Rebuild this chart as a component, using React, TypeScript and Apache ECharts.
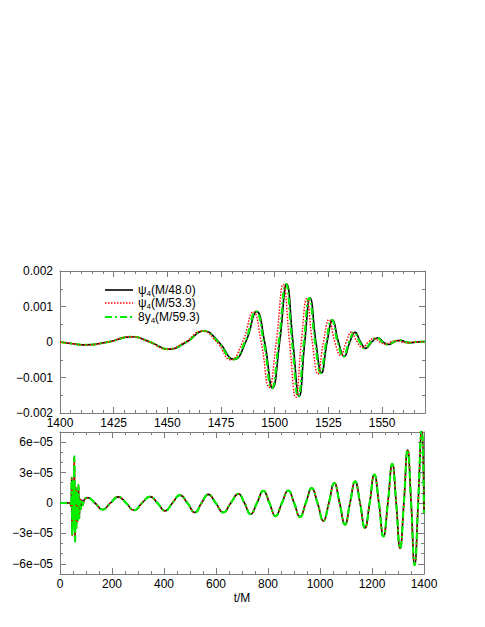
import React, { useEffect, useRef } from "react";
import * as echarts from "echarts";

// ---- Top panel (merger) : [t/M, value] ----
const topPsi48: [number, number][] = [
  [1400, 0], [1405, -0.00004], [1411.7, -0.00008], [1422.6, 0], [1433.5, 0.00015],
  [1442, 0], [1450.6, -0.0002], [1459, 0], [1467, 0.00031], [1474, 0],
  [1481, -0.00049], [1486.5, 0], [1491.6, 0.00086], [1495.3, 0], [1499, -0.0013],
  [1502.3, 0], [1505.6, 0.00163], [1508.5, 0], [1511.4, -0.00153], [1514, 0],
  [1516.5, 0.00124], [1519.2, 0], [1521.8, -0.00087], [1524.4, 0], [1527, 0.00062],
  [1529.7, 0], [1532.4, -0.00041], [1535, 0], [1537.4, 0.00027], [1540, 0],
  [1542.5, -0.00018], [1545.2, 0], [1548, 0.00012], [1550.5, 0], [1553, -0.00007],
  [1555.7, 0], [1558.5, 0.00005], [1561, 0], [1563.5, -0.00002], [1566, 0], [1570, 0.00001],
];

const topPsi53: [number, number][] = [
  [1400, 0], [1405, -0.00004], [1411.5, -0.00008], [1422.3, 0], [1433.2, 0.00015],
  [1441.6, 0], [1450.1, -0.0002], [1458.3, 0], [1466.1, 0.00031], [1473, 0],
  [1479.5, -0.0005], [1485, 0], [1490, 0.00085], [1493.7, 0], [1497.4, -0.00128],
  [1500.7, 0], [1504, 0.00162], [1506.9, 0], [1509.8, -0.00156], [1512.4, 0],
  [1514.9, 0.00122], [1517.5, 0], [1520.1, -0.0009], [1522.7, 0], [1525.3, 0.00063],
  [1528, 0], [1530.7, -0.00038], [1533.3, 0], [1535.8, 0.00028], [1538.4, 0],
  [1540.9, -0.00015], [1543.6, 0], [1546.3, 0.0001], [1548.9, 0], [1551.4, -0.00006],
  [1554, 0], [1556.8, 0.00004], [1559.5, 0], [1562, -0.00002], [1565, 0], [1570, 0.00001],
];

const top8y59: [number, number][] = [
  [1400, 0], [1405, -0.00004], [1411.6, -0.00008], [1422.5, 0], [1433.4, 0.00015],
  [1441.9, 0], [1450.4, -0.0002], [1458.8, 0], [1466.7, 0.00031], [1473.6, 0],
  [1480.6, -0.00049], [1486.1, 0], [1491.2, 0.00086], [1494.9, 0], [1498.6, -0.0013],
  [1501.9, 0], [1505.2, 0.00163], [1508.1, 0], [1511, -0.00154], [1513.6, 0],
  [1516.1, 0.00124], [1518.8, 0], [1521.4, -0.00087], [1524, 0], [1526.6, 0.00062],
  [1529.3, 0], [1532, -0.00041], [1534.6, 0], [1537, 0.00027], [1539.6, 0],
  [1542.1, -0.00018], [1544.8, 0], [1547.6, 0.00012], [1550.1, 0], [1552.6, -0.00007],
  [1555.3, 0], [1558.1, 0.00005], [1560.6, 0], [1563.1, -0.00002], [1565.6, 0], [1570, 0.00001],
];

// ---- Bottom panel (whole run) : the three curves coincide ----
const bottomInspiral: [number, number][] = [
  [0, 0], [30, 0], [38, 0], [42, -3e-6], [45, 2.5e-5], [47, -3.2e-5], [50, 2.2e-5],
  [53, -2.6e-5], [55, 4.6e-5], [58, -3.8e-5], [61, 1.5e-5], [63, -2.5e-5], [66, 1e-5],
  [68, -1.8e-5], [71, 1.8e-5], [74, -1.5e-5], [77, 4e-6], [80, -6e-6], [84, 3e-6],
  [88, -2e-6], [93, 3e-6], [105, 5.3e-6], [134.5, 0], [164, -6.5e-6], [194, 0],
  [224, 6e-6], [254.5, 0], [285, -7.2e-6], [315.5, 0], [346, 6.3e-6], [375, 0],
  [404, -7.7e-6], [432.5, 0], [461, 7.8e-6], [490, 0], [519, -9.3e-6], [544.5, 0],
  [570, 8.5e-6], [599, 0], [628, -9.3e-6], [657, 0], [686, 9e-6], [709.5, 0],
  [733, -1.1e-5], [757.5, 0], [782, 1.2e-5], [805.5, 0], [829, -1.3e-5], [853.5, 0],
  [878, 1.23e-5], [900.5, 0], [923, -1.37e-5], [945.5, 0], [968, 1.47e-5], [990.5, 0],
  [1013, -1.77e-5], [1034, 0], [1055, 1.97e-5], [1075.5, 0], [1096, -2.13e-5], [1115.5, 0],
  [1135, 2.13e-5], [1154, 0], [1173, -2.47e-5], [1191, 0], [1209, 2.8e-5], [1226.5, 0],
  [1244, -3.3e-5], [1261, 0], [1278, 3.87e-5], [1293, 0], [1308, -4.47e-5], [1322.5, 0],
  [1337, 5.23e-5], [1350.5, 0], [1364, -6.13e-5], [1377.5, 0], [1391, 7.5e-5], [1400, -1e-5],
];

const legendLabels = ["(M/48.0)", "(M/53.3)", "(M/59.3)"];
const legendPrefixes = ["ψ", "ψ", "8y"];

const FONT = '"Liberation Sans", Arial, Helvetica, sans-serif';
const FRAME = "#7a7a7a";
const C_BLACK = "#000000";
const C_RED = "#ff0000";
const C_GREEN = "#00ee00";

function fmtTop(v: number): string {
  const r = Math.round(v * 1e4) / 1e4;
  if (r === 0) return "0";
  const s = Math.abs(r).toFixed(3);
  return (r < 0 ? "\u2212" : "") + s;
}
function fmtBottom(v: number): string {
  const n = Math.round(v * 1e5);
  if (n === 0) return "0";
  return (n < 0 ? "\u2212" : "") + Math.abs(n) + "e\u221205";
}
function fmtPlain(v: number): string {
  return String(Math.round(v));
}

function valAxis(extra: any, labels: boolean, fmt?: (v: number) => string, lineShow = true) {
  return {
    type: "value",
    splitLine: { show: false },
    axisLine: { show: lineShow, onZero: false, lineStyle: { color: FRAME, width: 1 } },
    axisTick: { show: true, inside: true, length: 6, lineStyle: { color: FRAME, width: 1 } },
    ...extra,
    minorTick: { show: true, length: 3, lineStyle: { color: FRAME, width: 1 }, ...(extra.minorTick || {}) },
    axisLabel: { show: labels, color: "#000", fontFamily: FONT, fontSize: 12, formatter: fmt, ...(extra.axisLabel || {}) },
  };
}

export default function App() {
  const ref = useRef<HTMLDivElement>(null);
  useEffect(() => {
    if (!ref.current) return;
    const chart = echarts.init(ref.current, undefined, { renderer: "svg" });

    const topX = { min: 1400, max: 1570, interval: 25, minorTick: { splitNumber: 5 } };
    const topY = { min: -0.002, max: 0.002, interval: 0.001, minorTick: { splitNumber: 2 } };
    const botX = { min: 0, max: 1400, interval: 200, minorTick: { splitNumber: 4 } };
    const botYFrame = { min: -7e-5, max: 7e-5, axisTick: { show: false }, minorTick: { show: false } };
    const botYTicks = { min: -6e-5, max: 6e-5, interval: 3e-5, minorTick: { splitNumber: 3 } };

    const lineSeries = (name: string, data: [number, number][], xi: number, yi: number, kind: number) => ({
      type: "line",
      name,
      data,
      xAxisIndex: xi,
      yAxisIndex: yi,
      showSymbol: false,
      smooth: 0.5,
      clip: true,
      silent: true,
      lineStyle:
        kind === 0
          ? { color: C_BLACK, width: 1.6 }
          : kind === 1
          ? { color: C_RED, width: 1.4, type: [1.5, 1.5] }
          : { color: C_GREEN, width: 2.2, type: [7, 3, 2, 3] },
    });

    const legendY = [290, 303, 317];
    const legendStyles = [
      { stroke: C_BLACK, lineWidth: 1.6 },
      { stroke: C_RED, lineWidth: 1.4, lineDash: [1.5, 1.5] },
      { stroke: C_GREEN, lineWidth: 2.2, lineDash: [7, 3, 2, 3] },
    ];
    const graphics: any[] = [];
    legendY.forEach((y, i) => {
      graphics.push({
        type: "line",
        shape: { x1: 105, y1: y, x2: 133, y2: y },
        style: legendStyles[i],
        silent: true,
      });
      graphics.push({
        type: "text",
        x: 138,
        y: y,
        style: {
          text: `{a|${legendPrefixes[i]}}{s|4}{a|${legendLabels[i]}}`,
          verticalAlign: "middle",
          fontFamily: FONT,
          rich: {
            a: { fontSize: 12, fontFamily: FONT, fill: "#000", lineHeight: 14 },
            s: { fontSize: 8, fontFamily: FONT, fill: "#000", lineHeight: 14, padding: [6, 0, 0, 0] },
          },
        },
        silent: true,
      });
    });

    const option: any = {
      animation: false,
      backgroundColor: "#ffffff",
      grid: [
        { left: 60, top: 271, width: 365, height: 142 },
        { left: 60, top: 432, width: 364, height: 142 },
        { left: 60, top: 432 + 142 / 14, width: 364, height: (142 * 12) / 14 },
      ],
      xAxis: [
        valAxis({ gridIndex: 0, position: "bottom", ...topX, axisLabel: { margin: 4, showMaxLabel: false } }, true, fmtPlain),
        valAxis({ gridIndex: 0, position: "top", ...topX }, false),
        valAxis(
          {
            gridIndex: 1,
            position: "bottom",
            ...botX,
            name: "t/M",
            nameLocation: "middle",
            nameGap: 18,
            nameTextStyle: { color: "#000", fontFamily: FONT, fontSize: 12 },
            axisLabel: { margin: 4 },
          },
          true,
          fmtPlain
        ),
        valAxis({ gridIndex: 1, position: "top", ...botX }, false),
        { type: "value", gridIndex: 2, min: 0, max: 1, show: false },
      ],
      yAxis: [
        valAxis({ gridIndex: 0, position: "left", ...topY, axisLabel: { margin: 7 } }, true, fmtTop),
        valAxis({ gridIndex: 0, position: "right", ...topY }, false),
        valAxis({ gridIndex: 1, position: "left", ...botYFrame }, false),
        valAxis({ gridIndex: 1, position: "right", ...botYFrame }, false),
        valAxis({ gridIndex: 2, position: "left", ...botYTicks, axisLabel: { margin: 7 } }, true, fmtBottom, false),
        valAxis({ gridIndex: 2, position: "right", ...botYTicks }, false, undefined, false),
      ],
      series: [
        lineSeries("psi48top", topPsi48, 0, 0, 0),
        lineSeries("y59top", top8y59, 0, 0, 2),
        lineSeries("psi53top", topPsi53, 0, 0, 1),
        lineSeries("psi48bot", bottomInspiral, 2, 2, 0),
        lineSeries("psi53bot", bottomInspiral, 2, 2, 1),
        lineSeries("y59bot", bottomInspiral, 2, 2, 2),
      ],
      graphic: graphics,
    };
    chart.setOption(option);
    return () => chart.dispose();
  }, []);
  return (
    <div
      ref={ref}
      style={{ position: "fixed", left: 0, top: 0, width: 485, height: 627, background: "#fff" }}
    />
  );
}
